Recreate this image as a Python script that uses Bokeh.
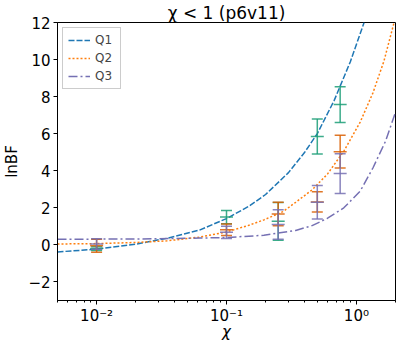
from bokeh.plotting import figure
from bokeh.models import ColumnDataSource, FixedTicker, Legend, LegendItem, Range1d, CustomJSTickFormatter
from bokeh.embed import file_html
from bokeh.resources import INLINE

# ---- data ----
x_pts = [0.01, 0.1, 0.25, 0.5, 0.75]

q1_mean = [-0.2, 1.5, 1.27, 5.85, 7.57]
q1_err = [0.1, 0.36, 1.02, 0.94, 0.96]
q2_mean = [-0.05, 0.82, 1.67, 2.32, 5.03]
q2_err = [0.35, 0.31, 0.63, 0.55, 0.88]
q3_mean = [0.05, 0.68, 1.1, 2.3, 3.85]
q3_err = [0.28, 0.33, 0.8, 0.9, 1.07]

q1_curve_x = [0.005, 0.01, 0.02, 0.035, 0.062, 0.1, 0.15, 0.2, 0.3, 0.4, 0.5, 0.675, 0.9, 1.146]
q1_curve_y = [-0.38, -0.23, 0.04, 0.36, 0.8, 1.42, 2.1, 2.72, 3.9, 5.0, 6.0, 7.8, 9.9, 12.0]
q2_curve_x = [0.005, 0.01, 0.02, 0.035, 0.062, 0.1, 0.146, 0.194, 0.273, 0.341, 0.456, 0.6, 0.8, 1.07, 1.34, 1.63, 1.95]
q2_curve_y = [0.05, 0.07, 0.13, 0.22, 0.42, 0.7, 1.04, 1.35, 1.8, 2.3, 2.97, 3.83, 5.06, 6.63, 8.2, 9.92, 12.0]
q3_curve_x = [0.005, 0.01, 0.03, 0.062, 0.1, 0.194, 0.341, 0.456, 0.6, 0.8, 1.07, 1.34, 1.67, 2.0]
q3_curve_y = [0.31, 0.31, 0.33, 0.37, 0.4, 0.52, 0.78, 1.04, 1.44, 2.0, 2.9, 4.15, 5.57, 7.15]

y_ticks = [-2, 0, 2, 4, 6, 8, 10, 12]
series_names = ["Q1", "Q2", "Q3"]
line_colors = ["#1f77b4", "#ff7f0e", "#7570b3"]
bar_colors = ["#1b9e77", "#d95f02", "#7570b3"]
line_dashes = ["6 2", "2 2", "9 3 2 3"]

FONT = "DejaVu Sans"

p = figure(width=399, height=343, x_axis_type="log",
           x_range=Range1d(0.005, 2.0), y_range=Range1d(-3, 12),
           output_backend="svg", toolbar_location=None,
           min_border_left=44, min_border_right=4, min_border_bottom=36, min_border_top=0,
           title="χ < 1 (p6v11)")
p.title.align = "center"
p.title.text_font = FONT
p.title.text_font_size = "17px"
p.title.text_font_style = "normal"
p.title.text_color = "black"
p.title.standoff = 0
p.title.offset = 0

p.xgrid.visible = False
p.ygrid.visible = False
p.outline_line_color = "black"
p.outline_line_width = 1
p.outline_line_alpha = 1.0

for ax in (p.xaxis[0], p.yaxis[0]):
    ax.major_label_text_font = FONT
    ax.major_label_text_font_size = "15px"
    ax.axis_label_text_font = FONT
    ax.axis_label_text_font_size = "15px"
    ax.axis_label_text_font_style = "normal"
    ax.major_tick_in = 0
    ax.major_tick_out = 4
    ax.minor_tick_in = 0
    ax.minor_tick_out = 2
    ax.axis_line_color = "black"
    ax.major_tick_line_color = "black"
    ax.minor_tick_line_color = "black"
    ax.major_label_text_color = "black"
    ax.axis_label_text_color = "black"
    ax.major_label_standoff = 3

p.yaxis.ticker = FixedTicker(ticks=y_ticks)
p.yaxis.major_label_overrides = {t: (f"−{abs(t)}" if t < 0 else str(t)) for t in y_ticks}
p.yaxis.minor_tick_line_color = None
p.yaxis.axis_label = "lnBF"
p.xaxis.formatter = CustomJSTickFormatter(code="""
    const e = Math.round(Math.log10(tick));
    const sup = {'-': '\u207b', '0': '\u2070', '1': '\u00b9', '2': '\u00b2', '3': '\u00b3',
                 '4': '\u2074', '5': '\u2075', '6': '\u2076', '7': '\u2077', '8': '\u2078', '9': '\u2079'};
    return '10' + String(e).split('').map(c => sup[c]).join('');
""")
p.xaxis.axis_label = "χ"
p.xaxis.axis_label_text_font_style = "italic"
p.xaxis.major_label_text_line_height = 1.0
p.xaxis.axis_label_text_line_height = 0.8
p.xaxis.axis_label_standoff = -5
p.xaxis.major_label_standoff = 2
p.yaxis.axis_label_standoff = 4

curves = [(q1_curve_x, q1_curve_y), (q2_curve_x, q2_curve_y), (q3_curve_x, q3_curve_y)]
renderers = []
for (cx, cy), col, dash in zip(curves, line_colors, line_dashes):
    r = p.line(cx, cy, line_color=col, line_width=1.5, line_dash=dash)
    renderers.append(r)

bars = [(q1_mean, q1_err), (q2_mean, q2_err), (q3_mean, q3_err)]
for (m, e), col in zip(bars, bar_colors):
    lo = [mi - ei for mi, ei in zip(m, e)]
    hi = [mi + ei for mi, ei in zip(m, e)]
    src = ColumnDataSource(dict(x=x_pts, m=m, lo=lo, hi=hi))
    p.segment(x0="x", y0="lo", x1="x", y1="hi", source=src,
              line_color=col, line_width=1.5, line_alpha=0.85)
    p.scatter(x="x", y="lo", source=src, marker="dash", size=11,
              line_color=col, line_width=1.5, line_alpha=0.85)
    p.scatter(x="x", y="hi", source=src, marker="dash", size=11,
              line_color=col, line_width=1.5, line_alpha=0.85)
    p.scatter(x="x", y="m", source=src, marker="dash", size=13,
              line_color=col, line_width=1.5, line_alpha=0.85)

legend = Legend(items=[LegendItem(label=n, renderers=[r]) for n, r in zip(series_names, renderers)],
                location="top_left")
legend.label_text_font = FONT
legend.label_text_font_size = "12px"
legend.glyph_width = 22
legend.glyph_height = 14
legend.spacing = 4
legend.padding = 5
legend.margin = 5
legend.label_standoff = 5
legend.border_line_color = "#cccccc"
legend.border_line_alpha = 1.0
legend.background_fill_alpha = 0.8
p.add_layout(legend)

open("out.html", "w").write(file_html(p, INLINE))
